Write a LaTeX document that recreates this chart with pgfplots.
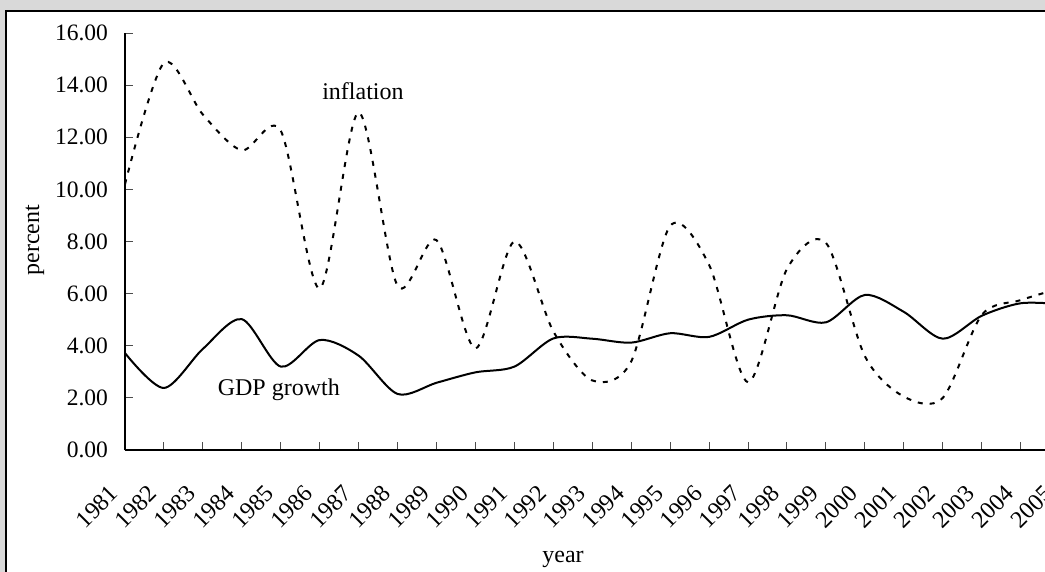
\documentclass[border=0pt]{standalone}
\usepackage{pgfplots}
\pgfplotsset{compat=1.18}
\usepackage{pgfplotstable}
\usepackage{fontspec}
\setmainfont{Liberation Serif}
\definecolor{bg}{RGB}{217,217,217}

\pgfplotstableread{
year infl gdp
1981 10.20 3.72
1982 14.85 2.38
1983 12.87 3.88
1984 11.50 5.02
1985 12.25 3.20
1986 6.20 4.22
1987 12.95 3.62
1988 6.30 2.15
1989 8.05 2.58
1990 3.90 2.98
1991 8.00 3.20
1992 4.55 4.28
1993 2.67 4.27
1994 3.40 4.12
1995 8.60 4.48
1996 7.10 4.34
1997 2.60 5.00
1998 6.95 5.17
1999 7.95 4.90
2000 3.60 5.95
2001 2.05 5.30
2002 2.00 4.27
2003 5.18 5.15
2004 5.75 5.63
2005 6.20 5.60
}\datatable

\begin{document}
\begin{tikzpicture}
\fill[bg] (0,0) rectangle (522.5pt,-286pt);
\filldraw[fill=white, draw=black, line width=0.6pt] (3pt,-5.5pt) rectangle (600pt,-330pt);
\begin{axis}[
  at={(62.5pt,-225pt)}, anchor=south west,
  scale only axis, width=467.3pt, height=208.5pt,
  xmin=1981, xmax=2005, ymin=0, ymax=16,
  axis lines*=left,
  axis line style={black, line width=0.6pt},
  tick align=inside, major tick length=4pt,
  tick style={black!70, line width=0.5pt},
  xtick={1981,...,2005},
  xticklabels={1981,1982,1983,1984,1985,1986,1987,1988,1989,1990,1991,1992,1993,1994,1995,1996,1997,1998,1999,2000,2001,2002,2003,2004,2005},
  ytick={0,2,...,16},
  /pgf/number format/assume math mode=true,
  yticklabel={\pgfmathprintnumber[fixed,fixed zerofill,precision=2]{\tick}},
  yticklabel style={font=\fontsize{11.75}{13}\selectfont, xshift=-5pt},
  xticklabel style={font=\fontsize{12}{13}\selectfont, rotate=45, anchor=east, xshift=-14.5pt, yshift=-10.2pt},
  clip=false,
]
\addplot[black, line width=1pt, smooth, tension=0.5] table[x=year, y=gdp] {\datatable};
\addplot[black, line width=1pt, dash pattern=on 2.5pt off 3.5pt, smooth, tension=0.5] table[x=year, y=infl] {\datatable};
\node[font=\fontsize{12}{14}\selectfont, anchor=base] at (axis cs:1987.11,13.43) {inflation};
\node[font=\fontsize{12}{14}\selectfont, anchor=base] at (axis cs:1984.95,2.08) {GDP growth};
\end{axis}
\node[font=\fontsize{12}{14}\selectfont, rotate=90] at (17.5pt,-120pt) {percent};
\node[font=\fontsize{12}{14}\selectfont, anchor=base] at (281.5pt,-281pt) {year};
\pgfresetboundingbox
\useasboundingbox (0,0) rectangle (522.5pt,-286pt);
\end{tikzpicture}
\end{document}
